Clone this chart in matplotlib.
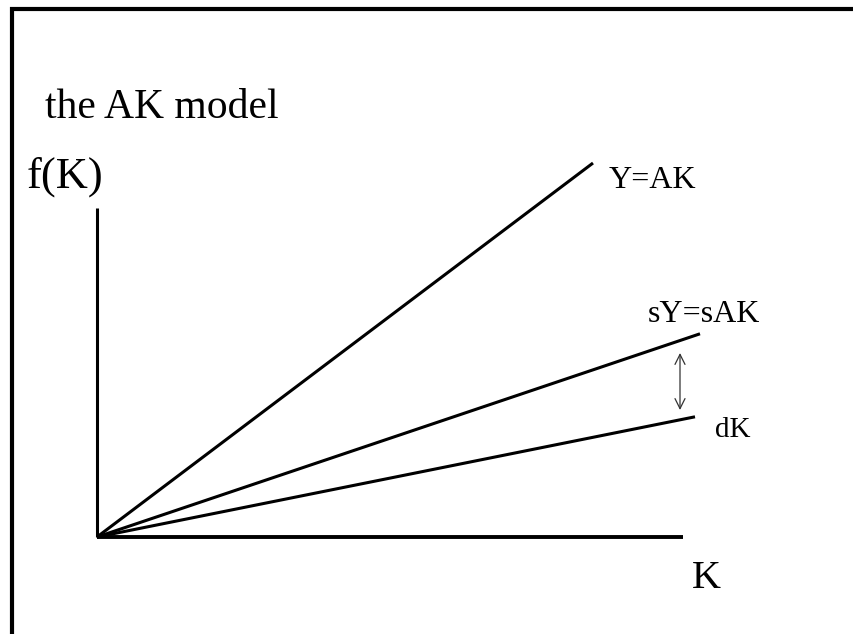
import matplotlib
matplotlib.use('Agg')
import matplotlib.pyplot as plt
import numpy as np

plt.rcParams['font.family'] = ['Liberation Serif', 'DejaVu Serif']

# model lines: label, end of K, slope
labels = ['Y=AK', 'sY=sAK', 'dK']
k_end = [496, 603, 598]
slopes = [0.754, 0.337, 0.201]
label_pos = [(512, 349), (551, 215), (618, 100)]
label_size = [23, 23, 21]

k_axis_end = 586
f_axis_end = 329
arrow_k = 583
arrow_y = [184, 127]

fig = plt.figure(figsize=[8.54, 6.34], dpi=100)
ax = fig.add_axes([0, 0, 1, 1])
ax.set_xlim(-97, 757)
ax.set_ylim(-97, 537)
ax.axis('off')

# slide frame (only top and left edges are visible)
ax.plot([-85, -85, 760], [-100, 528, 528], color='black', lw=3.0, solid_joinstyle='miter')

# axes
ax.plot([0, k_axis_end], [0, 0], color='black', lw=2.8, solid_capstyle='butt')
ax.plot([0, 0], [0, f_axis_end], color='black', lw=2.2, solid_capstyle='butt')

for lab, ke, sl, pos, fs in zip(labels, k_end, slopes, label_pos, label_size):
    k = np.array([0, ke])
    ax.plot(k, sl * k, color='black', lw=2.2, solid_capstyle='butt')
    ax.text(pos[0], pos[1], lab, fontsize=fs, ha='left', va='baseline')

ax.annotate('', xy=(arrow_k, arrow_y[0]), xytext=(arrow_k, arrow_y[1]),
            arrowprops=dict(arrowstyle='<->', color='#333333', lw=0.9,
                            mutation_scale=18, shrinkA=0, shrinkB=0))

ax.text(-52, 419, 'the AK model', fontsize=30, ha='left', va='baseline')
ax.text(-70, 349, 'f(K)', fontsize=32, ha='left', va='baseline')
ax.text(595, -51, 'K', fontsize=29, ha='left', va='baseline')

plt.savefig('out.png', dpi=100)
